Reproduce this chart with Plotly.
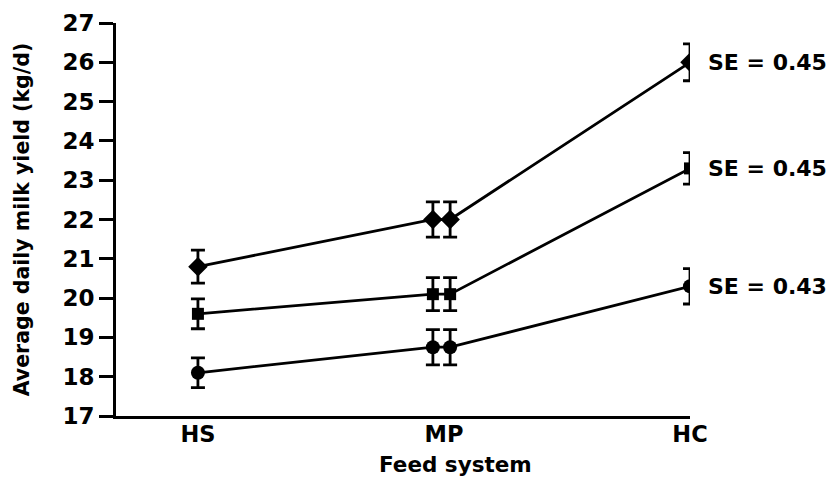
import plotly.graph_objects as go

# Feed systems on the x axis
categories = ["HS", "MP", "HC"]

# Mean daily milk yield (kg/d) per group; MP has two adjacent means
# (category index of each point, then the value and its error half-width)
point_category = [0, 1, 1, 2]
diamond_mean = [20.8, 22.0, 22.0, 26.0]
diamond_err = [0.42, 0.45, 0.45, 0.47]
square_mean = [19.6, 20.1, 20.1, 23.3]
square_err = [0.38, 0.42, 0.42, 0.40]
circle_mean = [18.1, 18.75, 18.75, 20.3]
circle_err = [0.38, 0.45, 0.45, 0.45]

se_labels = ["SE = 0.45", "SE = 0.45", "SE = 0.43"]
y_ticks = list(range(17, 28))
x_title = "Feed system"
y_title = "Average daily milk yield (kg/d)"

# small horizontal nudge so the paired MP points do not overlap
nudge = [0.0, -0.045, 0.025, 0.0]
x_pos = [c + d for c, d in zip(point_category, nudge)]

FONT = "DejaVu Sans"
BLACK = "#000000"

series = [
    (diamond_mean, diamond_err, "diamond", 15),
    (square_mean, square_err, "square", 12),
    (circle_mean, circle_err, "circle", 14),
]

fig = go.Figure()
for means, errs, symbol, size in series:
    fig.add_trace(go.Scatter(
        x=x_pos, y=means,
        mode="lines+markers",
        line=dict(color=BLACK, width=2.8),
        marker=dict(symbol=symbol, size=size, color=BLACK),
        error_y=dict(type="data", array=errs, visible=True,
                     color=BLACK, thickness=2.8, width=7),
        showlegend=False,
    ))

# SE labels to the right of the HC points
for (means, _, _, _), label in zip(series, se_labels):
    fig.add_annotation(
        x=point_category[-1], y=means[-1], xref="x", yref="y",
        text=label, showarrow=False, xanchor="left", yanchor="middle",
        xshift=16, font=dict(family=FONT, size=22, color=BLACK, weight="bold"),
    )

# x-axis title, set under the MP label
fig.add_annotation(
    x=1, y=0, xref="x", yref="paper",
    text=x_title, showarrow=False, xanchor="center", yanchor="middle",
    xshift=12, yshift=-48, borderpad=0,
    font=dict(family=FONT, size=21.5, color=BLACK, weight="bold"),
)

fig.update_layout(
    width=831, height=477,
    margin=dict(l=116, r=141, t=23, b=61),
    paper_bgcolor="white", plot_bgcolor="white",
    showlegend=False,
)

fig.update_xaxes(
    range=[-0.333, 2.0],
    tickmode="array", tickvals=list(range(len(categories))), ticktext=categories,
    ticks="", showgrid=False, zeroline=False,
    showline=True, linecolor=BLACK, linewidth=3,
    tickfont=dict(family=FONT, size=22.5, color=BLACK, weight="bold"),
    ticklabelstandoff=-4,
    automargin=False,
)
fig.update_yaxes(
    range=[17, 27],
    tickmode="array", tickvals=y_ticks,
    ticks="outside", ticklen=14, tickwidth=2.5, tickcolor=BLACK,
    showgrid=False, zeroline=False,
    showline=True, linecolor=BLACK, linewidth=3,
    tickfont=dict(family=FONT, size=23, color=BLACK, weight="bold"),
    title=dict(text=y_title, standoff=28,
               font=dict(family=FONT, size=20.5, color=BLACK, weight="bold")),
    automargin=False,
)

fig.write_html("out.html")
